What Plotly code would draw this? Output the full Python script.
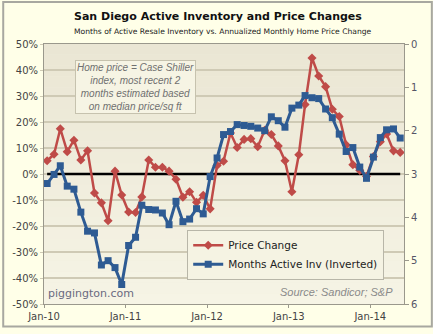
import pandas as pd
import plotly.graph_objects as go

# Monthly observations, Jan 2010 - May 2014 (plotted mid-month)
months = pd.date_range("2010-01-01", "2014-05-01", freq="MS") + pd.Timedelta(days=14)

# Annualized monthly home price change (%)
price_change = [
    5.1, 7.6, 17.4, 8.6, 13.0, 5.4, 8.9, -7.3, -11.1, -18.0, 1.1, -8.1,
    -14.6, -14.8, -8.8, 5.4, 2.6, 2.6, 1.1, -2.0, -8.9, -6.8, -10.9, -8.2,
    -13.4, 3.3, 4.9, 15.8, 10.2, 13.3, 13.6, 10.5, 16.8, 15.2, 10.8, 5.1,
    -6.8, 7.4, 26.7, 44.6, 37.7, 33.6, 24.9, 22.1, 11.2, 3.6, 1.4, -0.9,
    6.7, 12.4, 15.4, 8.9, 8.3,
]

# Months of active resale inventory (shown on an inverted right axis)
months_inv = [
    3.22, 3.01, 2.81, 3.28, 3.35, 3.88, 4.32, 4.36, 5.10, 5.00, 5.16, 5.55,
    4.65, 4.46, 3.72, 3.82, 3.83, 3.90, 4.17, 3.63, 4.10, 4.04, 3.80, 3.92,
    3.06, 2.63, 2.09, 2.02, 1.86, 1.88, 1.90, 1.94, 2.00, 1.68, 1.77, 1.92,
    1.48, 1.41, 1.19, 1.24, 1.26, 1.50, 1.70, 2.08, 2.48, 2.39, 2.84, 3.10,
    2.61, 2.16, 1.98, 1.96, 2.17,
]

baseline = [0] * len(months)

tick_dates = ["2010-01-01", "2011-01-01", "2012-01-01", "2013-01-01", "2014-01-01"]
tick_labels = ["Jan-10", "Jan-11", "Jan-12", "Jan-13", "Jan-14"]
pct_ticks = list(range(-50, 51, 10))
inv_ticks = list(range(0, 7))

RED = "#BF4B48"
BLUE = "#2E5B93"
W, H = 433, 334
ML, MR, MT, MB = 42, 29, 44, 24
PW, PH = W - ML - MR, H - MT - MB


def px_x(px):
    return (px - ML) / PW


def px_y(py):
    return (H - MB - py) / PH


fig = go.Figure()

fig.add_trace(go.Scatter(
    x=months, y=baseline, mode="lines",
    line=dict(color="black", width=2.5),
    showlegend=False, hoverinfo="skip",
))
fig.add_trace(go.Scatter(
    x=months, y=price_change, name="Price Change", mode="lines+markers",
    line=dict(color=RED, width=2.5),
    marker=dict(symbol="diamond", size=7, color=RED),
))
fig.add_trace(go.Scatter(
    x=months, y=months_inv, name="Months Active Inv (Inverted)",
    mode="lines+markers", yaxis="y2",
    line=dict(color=BLUE, width=3),
    marker=dict(symbol="square", size=7, color=BLUE),
))

# soft vertical gradient behind the plot area
shapes = []
n_bands = 24
top_rgb = (234, 230, 212)
bot_rgb = (246, 244, 229)
for i in range(n_bands):
    t = i / (n_bands - 1)
    c = tuple(round(top_rgb[k] + (bot_rgb[k] - top_rgb[k]) * t) for k in range(3))
    shapes.append(dict(
        type="rect", xref="x domain", yref="y domain",
        x0=0, x1=1, y0=1 - (i + 1) / n_bands, y1=1 - i / n_bands,
        fillcolor="rgb(%d,%d,%d)" % c, line=dict(width=0), layer="below",
    ))
# outer frame of the figure
shapes.append(dict(
    type="rect", xref="paper", yref="paper",
    x0=px_x(1), x1=px_x(W - 1), y0=px_y(H - 1), y1=px_y(1),
    line=dict(color="#A8A8A0", width=2), fillcolor="rgba(0,0,0,0)", layer="below",
))

annotations = [
    dict(text="<b>San Diego Active Inventory and Price Changes</b>",
         xref="paper", yref="paper", x=px_x(W / 2), y=px_y(16),
         showarrow=False, xanchor="center", yanchor="middle",
         font=dict(family="DejaVu Sans", size=11, color="#111111")),
    dict(text="Months of Active Resale Inventory vs. Annualized Monthly Home Price Change",
         xref="paper", yref="paper", x=px_x(W / 2 + 5), y=px_y(31),
         showarrow=False, xanchor="center", yanchor="middle",
         font=dict(family="DejaVu Sans", size=7.6, color="#222222")),
    dict(text="<i>Home price = Case Shiller<br>index, most recent 2<br>months estimated based<br>on median price/sq ft</i>",
         xref="paper", yref="paper", x=px_x(134), y=px_y(88),
         showarrow=False, xanchor="center", yanchor="middle", align="center",
         bgcolor="#F6F4E4", bordercolor="#C6C2AE", borderwidth=1, borderpad=1,
         font=dict(family="Liberation Sans", size=10, color="#707070")),
    dict(text="piggington.com",
         xref="paper", yref="paper", x=px_x(44), y=px_y(299),
         showarrow=False, xanchor="left", yanchor="middle",
         font=dict(family="DejaVu Sans", size=11, color="#6A6A80")),
    dict(text="<i>Source: Sandicor; S&P</i>",
         xref="paper", yref="paper", x=px_x(395), y=px_y(298),
         showarrow=False, xanchor="right", yanchor="middle",
         font=dict(family="Liberation Sans", size=11, color="#8A8A8A")),
]

fig.update_layout(
    width=W, height=H,
    margin=dict(l=ML, r=MR, t=MT, b=MB),
    paper_bgcolor="#FFFFE8",
    plot_bgcolor="#F0EDDC",
    font=dict(family="DejaVu Sans", size=10, color="#444444"),
    shapes=shapes,
    annotations=annotations,
    legend=dict(
        x=px_x(186), y=px_y(234), xanchor="left", yanchor="top",
        bgcolor="#F5F3E3", bordercolor="#B8B6A8", borderwidth=1,
        font=dict(family="DejaVu Sans", size=10.5, color="#222222"),
        tracegroupgap=0,
    ),
    xaxis=dict(
        type="date", range=["2010-01-01", "2014-06-01"],
        tickvals=tick_dates, ticktext=tick_labels,
        showgrid=False, ticks="outside", ticklen=3, tickcolor="#9A988C",
        showline=True, linecolor="#9A988C", linewidth=1, mirror=True,
        tickfont=dict(size=10, color="#444444"),
    ),
    yaxis=dict(
        range=[-50, 50], tickvals=pct_ticks,
        ticktext=["%d%%" % v for v in pct_ticks],
        showgrid=True, gridcolor="#CFCAB5", gridwidth=2,
        zeroline=False, ticks="outside", ticklen=3, tickcolor="#CFCAB5",
        showline=True, linecolor="#9A988C", linewidth=1,
        tickfont=dict(size=10, color="#444444"),
    ),
    yaxis2=dict(
        overlaying="y", side="right", range=[6, 0], tickvals=inv_ticks,
        showgrid=False, zeroline=False, ticks="outside", ticklen=4,
        tickcolor="#9A988C", showline=True, linecolor="#9A988C", linewidth=1,
        tickfont=dict(size=10, color="#555566"),
    ),
)

fig.write_html("out.html")
